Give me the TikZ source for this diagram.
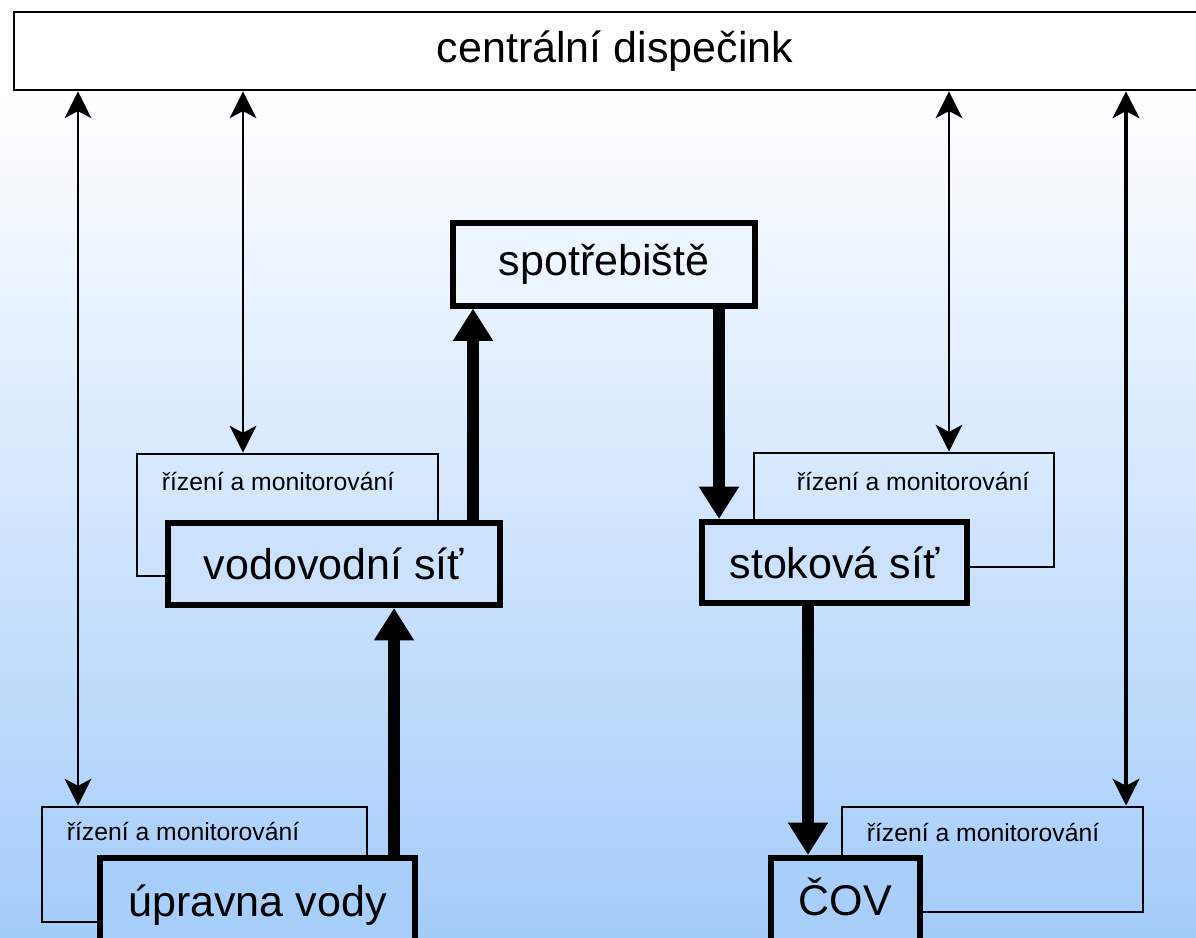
\documentclass[tikz,border=0pt]{standalone}
\usepackage{fontspec}
\setmainfont{Liberation Sans}
\usepackage{tikz}
\usetikzlibrary{calc,arrows.meta}
\definecolor{bgblue}{RGB}{164,204,250}
\def\pxl{0.025cm} % one pixel of the drawing
\tikzset{
  mainbox/.style={draw=black, rectangle, inner sep=0pt, font=\fontsize{30.6}{36}\selectfont},
  ctrl/.style={draw=black, line width=2.1pt, rectangle, inner sep=0pt},
  small/.style={inner sep=0pt, font=\fontsize{17.6}{21}\selectfont},
  duplex/.style={draw=black, line width=1.6pt, {Stealth[length=19pt,width=19pt,inset=5pt]}-{Stealth[length=19pt,width=19pt,inset=5pt]}},
  flow/.style={draw=black, line width=8.5pt, -{Triangle[length=23pt,width=27pt]}},
}

\begin{document}
\begin{tikzpicture}[x=0.025cm, y=-0.025cm]
  \useasboundingbox (0,0) rectangle (1196,938);
  \clip (0,0) rectangle (1196,938);
  % background
  \fill[white] (0,0) rectangle (1196,90);
  \shade[top color=white, bottom color=bgblue] (0,90) rectangle (1196,938);

  % control boxes, behind the units
  \node[ctrl, minimum width=301*\pxl, minimum height=122*\pxl] (ctlVod) at (287.5,515) {};
  \node[ctrl, minimum width=300*\pxl, minimum height=114*\pxl] (ctlSto) at (904,510) {};
  \node[ctrl, minimum width=325*\pxl, minimum height=115*\pxl] (ctlUpr) at (204.5,864.5) {};
  \node[ctrl, minimum width=301*\pxl, minimum height=105*\pxl] (ctlCov) at (992.5,859.5) {};
  \node[small, anchor=base west] (txtVod) at ($(ctlVod.north west)+(26,38)$) {řízení a monitorování};
  \node[small, anchor=base west] (txtSto) at ($(ctlSto.north west)+(44,39)$) {řízení a monitorování};
  \node[small, anchor=base west] (txtUpr) at ($(ctlUpr.north west)+(26,35)$) {řízení a monitorování};
  \node[small, anchor=base west] (txtCov) at ($(ctlCov.north west)+(26,36)$) {řízení a monitorování};

  % units
  \node[mainbox, fill=white, line width=2pt, minimum width=1186*\pxl, minimum height=78*\pxl] (disp) at (607,51) {\hspace*{0.4cm}centrální dispečink};
  \node[mainbox, fill=bgblue!20!white, line width=3.6pt, minimum width=302*\pxl, minimum height=83*\pxl] (spot) at (604,264.5) {spotřebiště};
  \node[mainbox, fill=bgblue!56!white, line width=4.3pt, minimum width=332*\pxl, minimum height=82*\pxl] (vodo) at (334,564) {vodovodní síť};
  \node[mainbox, fill=bgblue!56!white, line width=4.3pt, minimum width=265*\pxl, minimum height=81*\pxl] (stok) at (834.5,562.5) {stoková síť};
  \node[mainbox, fill=bgblue!96!white, line width=4.3pt, minimum width=315*\pxl, minimum height=94*\pxl] (upr) at (257.5,905) {úpravna vody};
  \node[mainbox, fill=bgblue!96!white, line width=4.3pt, text depth=12pt, minimum width=149*\pxl, minimum height=94*\pxl] (cov) at (845.5,905) {ČOV};

  % signals
  \draw[duplex] (disp.south -| 78,0) -- (ctlUpr.north -| 78,0);
  \draw[duplex] (disp.south -| 243,0) -- (ctlVod.north -| 243,0);
  \draw[duplex] (disp.south -| 949,0) -- (ctlSto.north -| 949,0);
  \draw[duplex, line width=2.8pt] (disp.south -| 1126,0) -- (ctlCov.north -| 1126,0);
  % water flow
  \draw[flow] (upr.north -| 394,0) -- (vodo.south -| 394,0);
  \draw[flow] (vodo.north -| 473,0) -- (spot.south -| 473,0);
  \draw[flow] (spot.south -| 719,0) -- (stok.north -| 719,0);
  \draw[flow] (stok.south -| 808,0) -- (cov.north -| 808,0);
\end{tikzpicture}
\end{document}
